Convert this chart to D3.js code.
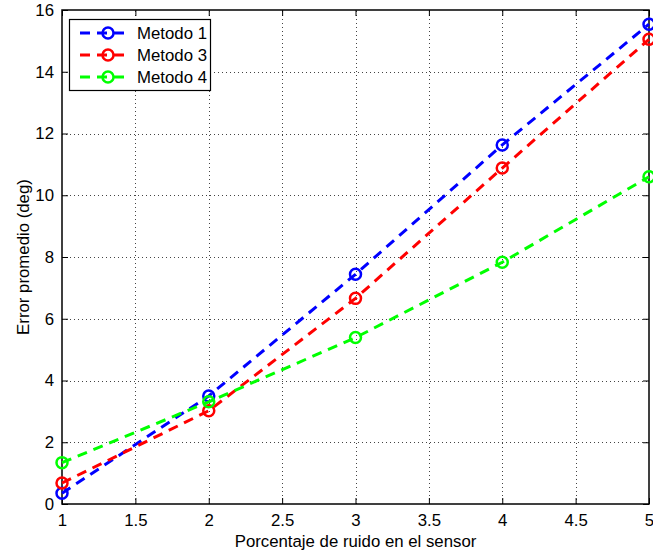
<!DOCTYPE html>
<html>
<head>
<meta charset="utf-8">
<script src="https://cdn.jsdelivr.net/npm/d3@7"></script>
<style>
  html, body { margin: 0; padding: 0; background: #fff; }
  svg { display: block; font-family: "Liberation Sans", Arial, sans-serif; }
</style>
</head>
<body>
<svg id="chart" width="653" height="555"></svg>
<script>
// Noise level (%) on the x axis
const noiseLevels = [1, 2, 3, 4, 5];

// Mean error (deg) for each method
const metodo1 = [0.35, 3.5, 7.44, 11.63, 15.54];
const metodo3 = [0.68, 3.02, 6.66, 10.88, 15.05];
const metodo4 = [1.34, 3.31, 5.39, 7.83, 10.6];

const seriesNames = ["Metodo 1", "Metodo 3", "Metodo 4"];
const seriesColors = ["#0000ff", "#ff0000", "#00ff00"];
const seriesValues = [metodo1, metodo3, metodo4];

const xTicks = [1, 1.5, 2, 2.5, 3, 3.5, 4, 4.5, 5];
const yTicks = [0, 2, 4, 6, 8, 10, 12, 14, 16];

const xLabel = "Porcentaje de ruido en el sensor";
const yLabel = "Error promedio (deg)";

const margin = { left: 62, top: 10, right: 4, bottom: 51 };
const width = 653, height = 555;
const x0 = margin.left, x1 = width - margin.right;
const y0 = height - margin.bottom, y1 = margin.top;
const fontSize = 16.8;

const x = d3.scaleLinear().domain([1, 5]).range([x0, x1]);
const y = d3.scaleLinear().domain([0, 16]).range([y0, y1]);

const svg = d3.select("#chart");

// dotted grid
const grid = svg.append("g").attr("stroke", "#444").attr("stroke-width", 1)
  .attr("stroke-dasharray", "1,3");
grid.selectAll(".gx").data(xTicks.slice(1, -1)).join("line")
  .attr("x1", d => Math.round(x(d)) + 0.5).attr("x2", d => Math.round(x(d)) + 0.5)
  .attr("y1", y0).attr("y2", y1);
grid.selectAll(".gy").data(yTicks.slice(1, -1)).join("line")
  .attr("y1", d => Math.round(y(d)) + 0.5).attr("y2", d => Math.round(y(d)) + 0.5)
  .attr("x1", x0).attr("x2", x1);

// axes with inward ticks on all four sides
const tickLen = 6;
const fmt = d3.format("~g");
const xb = svg.append("g").attr("transform", `translate(0,${y0})`)
  .call(d3.axisBottom(x).tickValues(xTicks).tickFormat(fmt).tickSizeInner(-tickLen).tickSizeOuter(0).tickPadding(10));
const xt = svg.append("g").attr("transform", `translate(0,${y1})`)
  .call(d3.axisTop(x).tickValues(xTicks).tickFormat("").tickSizeInner(-tickLen).tickSizeOuter(0));
const yl = svg.append("g").attr("transform", `translate(${x0},0)`)
  .call(d3.axisLeft(y).tickValues(yTicks).tickFormat(fmt).tickSizeInner(-tickLen).tickSizeOuter(0).tickPadding(8));
const yr = svg.append("g").attr("transform", `translate(${x1},0)`)
  .call(d3.axisRight(y).tickValues(yTicks).tickFormat("").tickSizeInner(-tickLen).tickSizeOuter(0));

[xb, xt, yl, yr].forEach(g => {
  g.select(".domain").remove();
  g.selectAll(".tick line").attr("stroke", "#000");
  g.selectAll("text").attr("font-size", fontSize).attr("fill", "#000")
    .attr("font-family", "'Liberation Sans', Arial, sans-serif");
});

// frame
svg.append("rect").attr("x", x0).attr("y", y1)
  .attr("width", x1 - x0).attr("height", y0 - y1)
  .attr("fill", "none").attr("stroke", "#000").attr("stroke-width", 1.5);

// series lines and markers
const line = d3.line().x((d, i) => x(noiseLevels[i])).y(d => y(d));
seriesValues.forEach((vals, k) => {
  svg.append("path").datum(vals)
    .attr("d", line).attr("fill", "none")
    .attr("stroke", seriesColors[k]).attr("stroke-width", 3)
    .attr("stroke-dasharray", "10,7");
  svg.append("g").selectAll("circle").data(vals).join("circle")
    .attr("cx", (d, i) => x(noiseLevels[i])).attr("cy", d => y(d))
    .attr("r", 5.5).attr("fill", "none")
    .attr("stroke", seriesColors[k]).attr("stroke-width", 2.5);
});

// axis titles
svg.append("text").attr("x", (x0 + x1) / 2).attr("y", 547)
  .attr("text-anchor", "middle").attr("font-size", fontSize).text(xLabel);
svg.append("text")
  .attr("transform", `translate(29,${(y0 + y1) / 2}) rotate(-90)`)
  .attr("text-anchor", "middle").attr("font-size", fontSize).text(yLabel);

// legend
const lg = svg.append("g");
lg.append("rect").attr("x", 69.5).attr("y", 19.5).attr("width", 141).attr("height", 71)
  .attr("fill", "#fff").attr("stroke", "#000").attr("stroke-width", 1.2);
seriesNames.forEach((name, k) => {
  const yy = 33 + k * 22;
  lg.append("line").attr("x1", 80).attr("x2", 130).attr("y1", yy).attr("y2", yy)
    .attr("stroke", seriesColors[k]).attr("stroke-width", 3)
    .attr("stroke-dasharray", "10,7");
  lg.append("circle").attr("cx", 108).attr("cy", yy).attr("r", 5.5)
    .attr("fill", "none").attr("stroke", seriesColors[k]).attr("stroke-width", 2.5);
  lg.append("text").attr("x", 137).attr("y", yy + 6).attr("font-size", fontSize).text(name);
});
</script>
</body>
</html>
